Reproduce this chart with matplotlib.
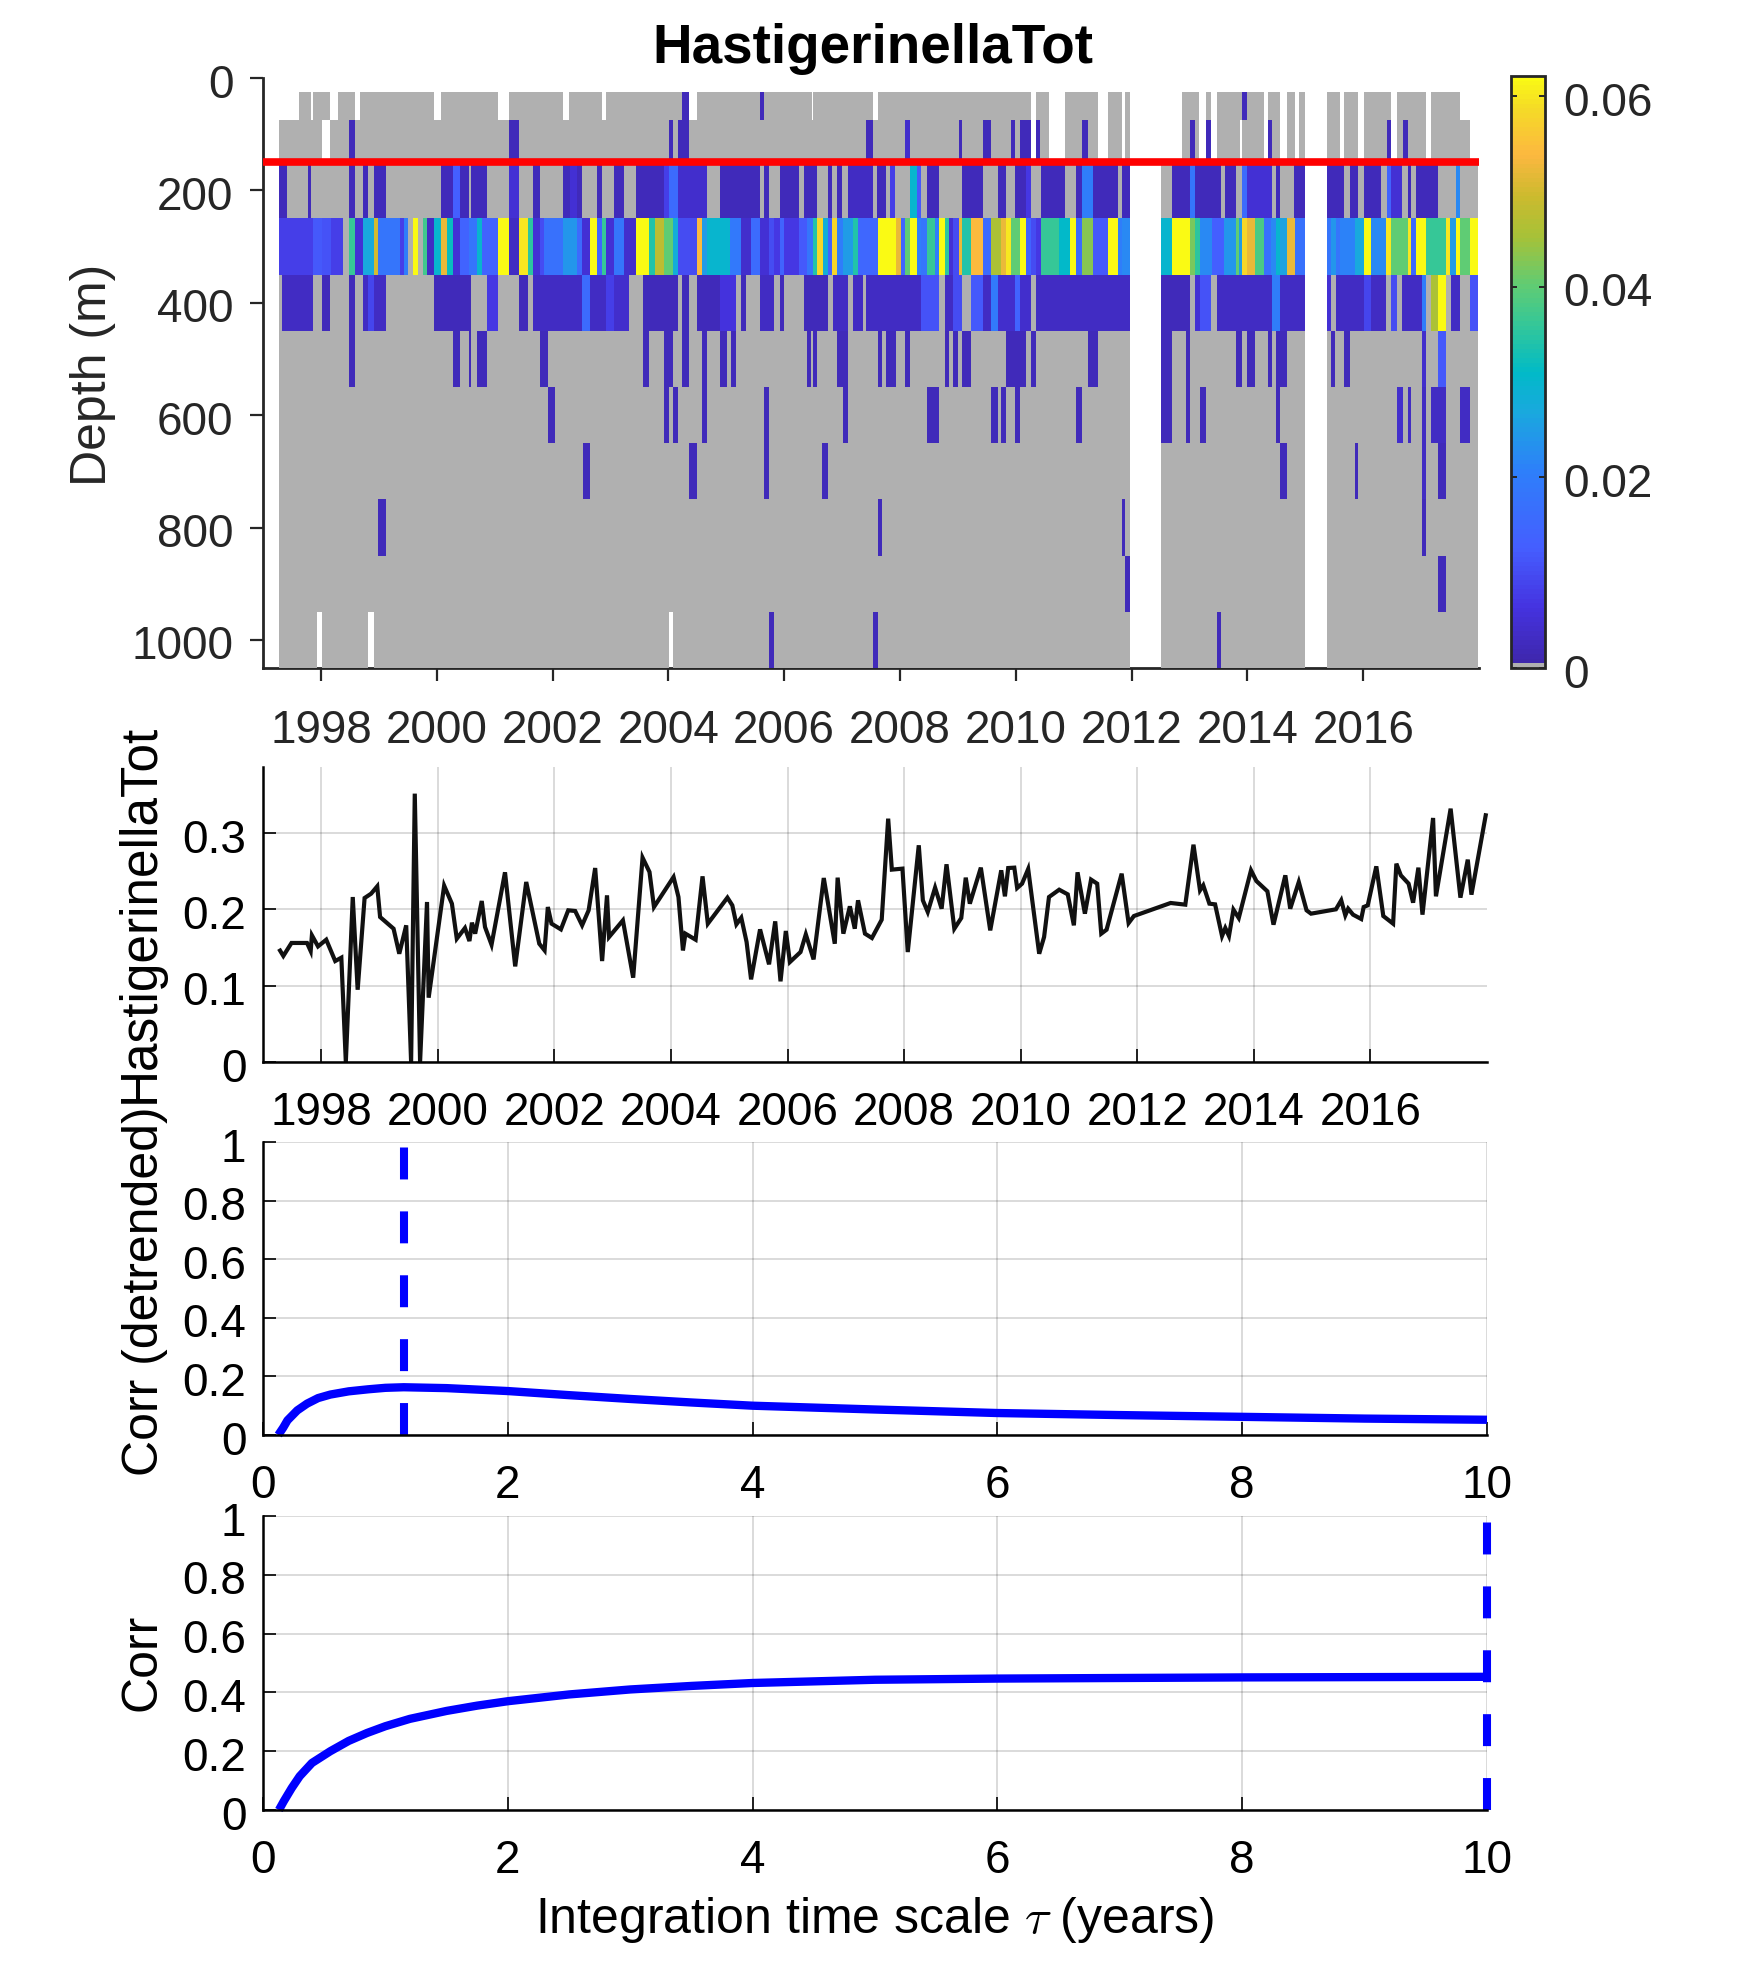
import numpy as np
import matplotlib
matplotlib.use('Agg')
import matplotlib.pyplot as plt
from matplotlib.colors import LinearSegmentedColormap, ListedColormap
from matplotlib.transforms import ScaledTranslation

plt.rcParams['font.family'] = ['Liberation Sans', 'DejaVu Sans']
plt.rcParams['mathtext.fontset'] = 'cm'
plt.rcParams['lines.scale_dashes'] = False

W, H = 1750, 1969

# ---- heat map data: (start year, end year) where sampled, (start, end, value) where non zero ----
depth_edges = [25, 75, 150, 250, 350, 450, 550, 650, 750, 850, 950, 1050]
full_record = [(1997.28, 2011.97), (2012.50, 2014.99), (2015.37, 2017.98)]

row50_base = [(1997.62, 1997.83), (1997.86, 1998.16), (1998.30, 1998.59), (1998.67, 1999.95),
              (2000.07, 2001.05), (2001.24, 2002.18), (2002.28, 2002.85), (2002.92, 2004.35),
              (2004.49, 2006.48), (2006.50, 2007.54), (2007.62, 2010.26), (2010.35, 2010.57),
              (2010.85, 2011.42), (2011.59, 2011.83), (2011.88, 2011.97), (2012.87, 2013.17),
              (2013.29, 2013.38), (2013.47, 2014.29), (2014.36, 2014.57), (2014.68, 2014.83),
              (2014.90, 2014.99), (2015.37, 2015.60), (2015.67, 2015.91), (2016.01, 2016.48),
              (2016.58, 2017.08), (2017.17, 2017.68)]
row50_cells = [(2004.24, 2004.35, .002), (2005.58, 2005.65, .002), (2013.91, 2013.99, .002)]

row110_base = [(1997.28, 1998.02), (1998.16, 2010.26), (2010.35, 2010.57), (2010.85, 2011.42),
               (2011.59, 2011.83), (2011.88, 2011.97), (2012.87, 2013.17), (2013.29, 2013.38),
               (2013.47, 2013.87), (2013.91, 2014.29), (2014.36, 2014.57), (2014.68, 2014.83),
               (2014.90, 2014.99), (2015.37, 2015.60), (2015.67, 2015.91), (2016.01, 2016.48),
               (2016.58, 2017.08), (2017.17, 2017.84)]
row110_cells = [(1998.48, 1998.59, .002), (2001.24, 2001.42, .002), (2004.01, 2004.08, .002),
                (2004.17, 2004.35, .002), (2007.42, 2007.53, .002), (2008.08, 2008.18, .004),
                (2009.02, 2009.08, .002), (2009.43, 2009.57, .002), (2009.92, 2009.99, .002),
                (2010.07, 2010.26, .002), (2010.35, 2010.42, .002), (2011.14, 2011.25, .002),
                (2013.01, 2013.09, .002), (2013.29, 2013.38, .002), (2014.36, 2014.43, .002),
                (2016.41, 2016.48, .002), (2016.69, 2016.77, .002)]

row200_cells = [(1997.28, 1997.42, .002), (1997.78, 1997.83, .002), (1998.48, 1998.59, .002),
                (1998.72, 1998.81, .002), (1998.91, 1999.12, .002), (2000.07, 2000.28, .002),
                (2000.28, 2000.40, .013), (2000.40, 2000.55, .002), (2000.60, 2000.86, .002),
                (2001.24, 2001.42, .005), (2001.67, 2001.78, .002), (2002.18, 2002.31, .002),
                (2002.31, 2002.42, .005), (2002.42, 2002.51, .002), (2002.77, 2002.85, .002),
                (2003.06, 2003.23, .002), (2003.44, 2003.92, .002), (2003.92, 2004.01, .008),
                (2004.01, 2004.17, .016), (2004.17, 2004.66, .004), (2004.89, 2005.58, .002),
                (2005.66, 2005.73, .002), (2005.93, 2006.26, .002), (2006.35, 2006.57, .002),
                (2006.76, 2006.83, .002), (2006.92, 2007.00, .002), (2007.11, 2007.53, .003),
                (2007.61, 2007.76, .002), (2007.83, 2007.92, .008), (2008.18, 2008.30, .03),
                (2008.30, 2008.36, .012), (2008.46, 2008.68, .002), (2009.08, 2009.43, .002),
                (2009.69, 2009.83, .002), (2009.99, 2010.18, .002), (2010.18, 2010.26, .007),
                (2010.44, 2010.85, .002), (2011.04, 2011.14, .002), (2011.14, 2011.33, .02),
                (2011.33, 2011.76, .002), (2011.83, 2011.97, .002), (2012.70, 2013.01, .002),
                (2013.01, 2013.09, .018), (2013.09, 2013.54, .002), (2013.61, 2013.80, .002),
                (2013.91, 2014.00, .016), (2014.00, 2014.43, .005), (2014.49, 2014.57, .002),
                (2014.81, 2014.99, .002), (2015.37, 2015.67, .002), (2015.77, 2015.91, .002),
                (2016.01, 2016.31, .002), (2016.41, 2016.48, .014), (2016.48, 2016.67, .005),
                (2016.77, 2016.83, .002), (2016.91, 2017.29, .002), (2017.60, 2017.68, .022)]

row300_cells = [(1997.28, 1997.86, .008), (1997.86, 1998.02, .012), (1998.02, 1998.17, .011),
                (1998.17, 1998.38, .008), (1998.48, 1998.59, .036), (1998.59, 1998.72, .005),
                (1998.72, 1998.91, .027), (1998.91, 1998.98, .05), (1998.98, 1999.36, .018),
                (1999.36, 1999.43, .008), (1999.43, 1999.50, .02), (1999.59, 1999.67, .062),
                (1999.76, 1999.83, .037), (1999.83, 1999.95, .003), (1999.95, 2000.07, .03),
                (2000.07, 2000.17, .052), (2000.17, 2000.28, .032), (2000.28, 2000.40, .005),
                (2000.40, 2000.55, .014), (2000.55, 2000.70, .018), (2000.70, 2000.78, .03),
                (2000.78, 2001.05, .014), (2001.05, 2001.24, .062), (2001.24, 2001.42, .003),
                (2001.42, 2001.58, .06), (2001.58, 2001.67, .035), (2001.67, 2001.78, .005),
                (2001.78, 2001.85, .01), (2001.85, 2002.18, .017), (2002.18, 2002.42, .024),
                (2002.42, 2002.51, .016), (2002.51, 2002.65, .005), (2002.65, 2002.77, .062),
                (2002.77, 2002.85, .014), (2002.85, 2002.92, .036), (2002.92, 2003.06, .005),
                (2003.06, 2003.23, .018), (2003.23, 2003.44, .004), (2003.44, 2003.66, .062),
                (2003.66, 2003.77, .034), (2003.77, 2003.92, .048), (2003.92, 2004.08, .04),
                (2004.08, 2004.17, .028), (2004.17, 2004.49, .01), (2004.49, 2004.58, .054),
                (2004.58, 2004.66, .025), (2004.66, 2005.07, .03), (2005.07, 2005.25, .019),
                (2005.25, 2005.43, .004), (2005.43, 2005.58, .016), (2005.58, 2005.73, .005),
                (2005.73, 2005.83, .01), (2005.83, 2005.93, .007), (2005.93, 2006.00, .014),
                (2006.00, 2006.26, .007), (2006.26, 2006.39, .012), (2006.39, 2006.50, .018),
                (2006.50, 2006.56, .034), (2006.56, 2006.67, .058), (2006.67, 2006.75, .028),
                (2006.75, 2006.83, .014), (2006.83, 2006.91, .058), (2006.91, 2007.01, .02),
                (2007.01, 2007.19, .025), (2007.19, 2007.27, .034), (2007.27, 2007.62, .015),
                (2007.62, 2007.94, .062), (2007.94, 2008.02, .052), (2008.02, 2008.09, .014),
                (2008.09, 2008.18, .04), (2008.18, 2008.30, .062), (2008.30, 2008.36, .02),
                (2008.36, 2008.46, .018), (2008.46, 2008.60, .036), (2008.60, 2008.68, .02),
                (2008.68, 2008.77, .062), (2008.77, 2008.84, .035), (2008.84, 2008.91, .005),
                (2008.91, 2009.02, .01), (2009.02, 2009.08, .052), (2009.08, 2009.22, .034),
                (2009.22, 2009.43, .054), (2009.43, 2009.57, .016), (2009.57, 2009.74, .046),
                (2009.74, 2009.83, .052), (2009.83, 2009.92, .06), (2009.92, 2010.08, .04),
                (2010.08, 2010.18, .062), (2010.18, 2010.26, .014), (2010.26, 2010.35, .01),
                (2010.35, 2010.43, .007), (2010.43, 2010.74, .036), (2010.74, 2010.94, .031),
                (2010.94, 2011.04, .062), (2011.04, 2011.14, .016), (2011.14, 2011.33, .043),
                (2011.33, 2011.59, .012), (2011.59, 2011.76, .062), (2011.76, 2011.83, .02),
                (2011.83, 2011.97, .022), (2012.50, 2012.70, .03), (2012.70, 2013.01, .062),
                (2013.01, 2013.09, .042), (2013.09, 2013.18, .035), (2013.18, 2013.39, .022),
                (2013.39, 2013.60, .013), (2013.60, 2013.80, .024), (2013.80, 2013.86, .04),
                (2013.86, 2013.91, .025), (2013.91, 2014.00, .058), (2014.00, 2014.14, .052),
                (2014.14, 2014.29, .038), (2014.29, 2014.40, .017), (2014.40, 2014.49, .022),
                (2014.49, 2014.57, .03), (2014.57, 2014.68, .026), (2014.68, 2014.83, .052),
                (2014.83, 2014.99, .017), (2015.37, 2015.45, .018), (2015.45, 2015.53, .024),
                (2015.53, 2015.60, .018), (2015.60, 2015.85, .021), (2015.85, 2016.01, .027),
                (2016.01, 2016.14, .062), (2016.14, 2016.40, .022), (2016.40, 2016.48, .06),
                (2016.48, 2016.77, .04), (2016.77, 2016.83, .06), (2016.83, 2016.91, .016),
                (2016.91, 2017.08, .062), (2017.08, 2017.43, .036), (2017.43, 2017.50, .06),
                (2017.50, 2017.60, .025), (2017.60, 2017.68, .062), (2017.68, 2017.84, .04),
                (2017.84, 2017.98, .062)]

row400_cells = [(1997.33, 1997.86, .003), (1998.02, 1998.16, .002), (1998.48, 1998.59, .002),
                (1998.72, 1998.81, .003), (1998.81, 1998.91, .009), (1998.91, 1999.12, .003),
                (1999.95, 2000.60, .002), (2000.86, 2001.05, .007), (2001.42, 2001.58, .002),
                (2001.67, 2002.51, .003), (2002.51, 2002.65, .016), (2002.65, 2002.92, .003),
                (2002.92, 2003.06, .008), (2003.06, 2003.32, .004), (2003.56, 2004.17, .002),
                (2004.24, 2004.35, .002), (2004.49, 2004.89, .002), (2004.89, 2005.16, .006),
                (2005.25, 2005.34, .002), (2005.58, 2005.82, .003), (2005.93, 2006.00, .002),
                (2006.34, 2006.76, .002), (2006.85, 2007.11, .003), (2007.19, 2007.36, .003),
                (2007.42, 2008.36, .003), (2008.36, 2008.68, .011), (2008.77, 2008.91, .003),
                (2008.91, 2009.08, .01), (2009.22, 2009.43, .012), (2009.43, 2009.57, .003),
                (2009.57, 2009.69, .019), (2009.69, 2009.99, .004), (2009.99, 2010.07, .014),
                (2010.07, 2010.26, .004), (2010.35, 2011.97, .003), (2012.50, 2013.01, .002),
                (2013.09, 2013.18, .005), (2013.18, 2013.38, .011), (2013.47, 2014.42, .003),
                (2014.42, 2014.57, .02), (2014.57, 2014.99, .003), (2015.37, 2015.45, .005),
                (2015.53, 2016.01, .003), (2016.01, 2016.14, .009), (2016.14, 2016.40, .003),
                (2016.48, 2016.58, .01), (2016.67, 2017.01, .003), (2017.01, 2017.08, .02),
                (2017.17, 2017.29, .046), (2017.29, 2017.43, .062), (2017.52, 2017.68, .003),
                (2017.84, 2017.98, .011)]

row500_cells = [(1998.48, 1998.59, .002), (2000.28, 2000.40, .002), (2000.55, 2000.60, .002),
                (2000.70, 2000.86, .002), (2001.78, 2001.92, .002), (2003.56, 2003.66, .002),
                (2003.92, 2004.08, .002), (2004.23, 2004.35, .002), (2004.58, 2004.66, .002),
                (2004.89, 2005.01, .002), (2005.08, 2005.16, .002), (2006.40, 2006.47, .002),
                (2006.50, 2006.56, .002), (2006.91, 2007.10, .002), (2007.62, 2007.69, .002),
                (2007.76, 2007.93, .002), (2008.08, 2008.18, .002), (2008.77, 2008.84, .002),
                (2008.91, 2009.01, .002), (2009.08, 2009.22, .002), (2009.83, 2010.18, .002),
                (2010.26, 2010.35, .002), (2011.25, 2011.42, .002), (2012.50, 2012.69, .002),
                (2012.94, 2013.01, .002), (2013.80, 2013.91, .002), (2013.99, 2014.13, .002),
                (2014.36, 2014.42, .002), (2014.49, 2014.68, .002), (2015.45, 2015.52, .002),
                (2015.67, 2015.77, .002), (2017.01, 2017.08, .004), (2017.29, 2017.43, .012)]

row600_cells = [(2001.92, 2002.04, .002), (2003.92, 2004.01, .002), (2004.08, 2004.16, .002),
                (2004.58, 2004.66, .002), (2005.65, 2005.73, .002), (2007.01, 2007.10, .002),
                (2008.46, 2008.68, .002), (2009.57, 2009.69, .002), (2009.74, 2009.83, .002),
                (2009.99, 2010.07, .002), (2011.04, 2011.14, .002), (2012.50, 2012.69, .002),
                (2012.94, 2013.01, .002), (2013.18, 2013.28, .002), (2014.49, 2014.57, .002),
                (2016.58, 2016.68, .004), (2016.77, 2016.83, .003), (2017.01, 2017.08, .003),
                (2017.17, 2017.43, .003), (2017.68, 2017.84, .003)]

row700_cells = [(2002.52, 2002.65, .002), (2004.35, 2004.49, .002), (2005.65, 2005.73, .002),
                (2006.66, 2006.75, .002), (2014.57, 2014.68, .002), (2015.86, 2015.91, .002),
                (2017.01, 2017.08, .003), (2017.29, 2017.43, .002)]

row800_cells = [(1998.98, 1999.12, .002), (2007.62, 2007.69, .002), (2011.83, 2011.88, .002),
                (2017.01, 2017.08, .002)]

row900_cells = [(2011.88, 2011.97, .002), (2017.29, 2017.43, .002)]

row1000_base = [(1997.28, 1997.93), (1998.02, 1998.81), (1998.91, 2004.01), (2004.08, 2011.97),
                (2012.50, 2014.99), (2015.37, 2017.98)]
row1000_cells = [(2005.73, 2005.82, .002), (2007.53, 2007.62, .002), (2013.47, 2013.54, .002)]

rows = [(row50_base, row50_cells), (row110_base, row110_cells), (full_record, row200_cells),
        (full_record, row300_cells), (full_record, row400_cells), (full_record, row500_cells),
        (full_record, row600_cells), (full_record, row700_cells), (full_record, row800_cells),
        (full_record, row900_cells), (row1000_base, row1000_cells)]

# ---- time series panel ----
ts_years = [1997.293, 1997.349, 1997.489, 1997.755, 1997.818, 1997.839, 1997.944, 1998.085, 1998.239,
            1998.344, 1998.421, 1998.540, 1998.624, 1998.743, 1998.855, 1998.960, 1999.009, 1999.240,
            1999.338, 1999.457, 1999.541, 1999.604, 1999.695, 1999.814, 1999.842, 2000.108, 2000.241,
            2000.325, 2000.465, 2000.542, 2000.585, 2000.640, 2000.753, 2000.809, 2000.921, 2001.152,
            2001.327, 2001.516, 2001.740, 2001.831, 2001.887, 2001.950, 2002.111, 2002.237, 2002.356,
            2002.475, 2002.587, 2002.699, 2002.818, 2002.902, 2002.937, 2003.175, 2003.351, 2003.512,
            2003.631, 2003.708, 2004.044, 2004.128, 2004.205, 2004.247, 2004.422, 2004.541, 2004.632,
            2004.968, 2005.052, 2005.122, 2005.206, 2005.297, 2005.374, 2005.528, 2005.682, 2005.788,
            2005.879, 2005.970, 2006.040, 2006.222, 2006.313, 2006.446, 2006.621, 2006.810, 2006.859,
            2006.957, 2007.069, 2007.153, 2007.209, 2007.328, 2007.447, 2007.615, 2007.726, 2007.789,
            2007.971, 2008.062, 2008.251, 2008.321, 2008.405, 2008.531, 2008.643, 2008.727, 2008.861,
            2008.980, 2009.057, 2009.127, 2009.316, 2009.477, 2009.666, 2009.729, 2009.785, 2009.890,
            2009.939, 2010.023, 2010.128, 2010.317, 2010.401, 2010.485, 2010.660, 2010.807, 2010.912,
            2010.975, 2011.101, 2011.207, 2011.312, 2011.382, 2011.473, 2011.732, 2011.851, 2011.942,
            2012.572, 2012.824, 2012.964, 2013.076, 2013.132, 2013.237, 2013.335, 2013.454, 2013.510,
            2013.573, 2013.650, 2013.741, 2013.951, 2014.043, 2014.232, 2014.337, 2014.540, 2014.624,
            2014.771, 2014.904, 2014.981, 2015.408, 2015.499, 2015.569, 2015.618, 2015.702, 2015.842,
            2015.884, 2015.954, 2016.101, 2016.221, 2016.389, 2016.445, 2016.522, 2016.655, 2016.732,
            2016.823, 2016.893, 2017.075, 2017.124, 2017.376, 2017.544, 2017.670, 2017.733, 2017.978]
ts_values = [.146, .139, .156, .156, .1454, .166, .1515, .1603, .1323,
             .1367, 0, .2162, .0947, .2149, .2206, .2302, .19, .1747,
             .1419, .1791, 0, .3517, 0, .2097, .0843, .2311, .2075,
             .1616, .1756, .1585, .1826, .1682, .211, .1769, .1537, .2486,
             .1253, .2359, .155, .1463, .2031, .1813, .1738, .1988, .1979,
             .1791, .1988, .2542, .1323, .2184, .1638, .1856, .1105, .2678,
             .249, .2031, .2424, .2162, .1463, .1682, .1603, .2433, .1813,
             .2154, .2053, .1804, .1891, .1572, .1083, .1738, .128, .1843,
             .1057, .1717, .131, .1441, .1673, .1345, .2411, .155, .2416,
             .1682, .204, .1747, .2119, .1682, .1625, .1865, .3189, .2521,
             .2534, .1441, .284, .2119, .1966, .2285, .2009, .2591, .1747,
             .1887, .2416, .2075, .2547, .1725, .2512, .2171, .2542, .2547,
             .228, .2337, .2529, .1419, .1638, .2162, .2258, .2197, .1791,
             .2486, .1944, .239, .2337, .1682, .1734, .2468, .1821, .1913,
             .2084, .2062, .2848, .225, .2315, .2075, .2066, .1651, .1756,
             .1651, .1996, .1887, .2512, .2372, .2237, .18, .2446, .2009,
             .2359, .1988, .1944, .2001, .2119, .1922, .2009, .1931, .1874,
             .2031, .2053, .2564, .1913, .1813, .2599, .2446, .2337, .2088,
             .2547, .1931, .3198, .2171, .332, .2154, .2652, .2193, .3233]

# ---- correlation panels ----
tau_detr = [0.125, 0.165, 0.2, 0.28, 0.36, 0.45, 0.55, 0.7, 0.86, 1, 1.15, 1.5, 2, 2.5, 3, 3.5, 4, 5, 6, 7, 8,
            9, 10]
corr_detr = [0, .025, .05, .084, .107, .126, .138, .149, .156, .161, .163, .16, .15, .136, .123, .111, .1,
             .087, .075, .068, .062, .056, .052]
best_tau_detr = 1.155

tau_raw = [0.13, 0.17, 0.235, 0.3, 0.4, 0.55, 0.7, 0.85, 1, 1.2, 1.5, 1.75, 2, 2.5, 3, 3.5, 4, 5, 6, 7, 8, 9, 10]
corr_raw = [0, .03, .075, .115, .16, .2, .235, .262, .285, .31, .337, .355, .37, .393, .41, .422, .432,
            .443, .447, .449, .451, .452, .453]
best_tau_raw = 10

year_ticks = list(range(1998, 2018, 2))
depth_ticks = [0, 200, 400, 600, 800, 1000]
ts_ticks = [0, 0.1, 0.2, 0.3]
ts_labels = ['0', '0.1', '0.2', '0.3']
corr_ticks = [0, 0.2, 0.4, 0.6, 0.8, 1]
corr_labels = ['0', '0.2', '0.4', '0.6', '0.8', '1']
tau_ticks = [0, 2, 4, 6, 8, 10]
cbar_ticks = [0, 0.02, 0.04, 0.06]
cbar_labels = ['0', '0.02', '0.04', '0.06']

TICK_FS = 33
LABEL_FS = 36
DARK = '#262626'


def axes_px(fig, left, top, right, bottom):
    return fig.add_axes([left / W, 1 - bottom / H, (right - left) / W, (bottom - top) / H])


def parula_gray():
    stops = [(0.00, (.2422, .1504, .6603)), (0.10, (.27, .20, .88)), (0.20, (.27, .37, 1.0)),
             (0.33, (.18, .50, .98)), (0.43, (.10, .66, .87)), (0.50, (.0, .73, .78)),
             (0.58, (.20, .78, .60)), (0.65, (.38, .80, .45)), (0.73, (.65, .76, .22)),
             (0.80, (.80, .73, .18)), (0.87, (.99, .72, .25)), (0.95, (.96, .86, .15)),
             (1.00, (.98, .98, .08))]
    base = LinearSegmentedColormap.from_list('parula_like', stops)
    colors = base(np.linspace(0, 1, 128))
    colors[0] = matplotlib.colors.to_rgba('#b0b0b0')
    return ListedColormap(colors)


def lower_ylabels(ax):
    # MATLAB sets the y tick labels a little under the tick
    shift = ScaledTranslation(0, -2.5 / 100, fig.dpi_scale_trans)
    for lab in ax.get_yticklabels():
        lab.set_transform(lab.get_transform() + shift)


def line_panel(ax, yticks, ylabels):
    ax.spines['top'].set_visible(False)
    ax.spines['right'].set_visible(False)
    for s in ['left', 'bottom']:
        ax.spines[s].set_linewidth(1.8)
    ax.set_yticks(yticks)
    ax.set_yticklabels(ylabels)
    ax.grid(True, color='k', alpha=0.17, linewidth=1.2)
    ax.set_axisbelow(True)
    ax.tick_params(axis='both', direction='in', length=9.4, width=1.2, labelsize=TICK_FS)
    ax.tick_params(axis='y', pad=12)
    lower_ylabels(ax)


fig = plt.figure(figsize=(W / 100, H / 100), dpi=100)

# ---- top: depth-time heat map ----
ax1 = axes_px(fig, 263, 78, 1479, 668)
bounds = sorted({v for base, cells in rows for span in list(base) + list(cells) for v in span[:2]})
t_edges = np.array(bounds)
grid = np.full((len(rows), len(t_edges) - 1), np.nan)
for i, (base, cells) in enumerate(rows):
    for t0, t1 in base:
        grid[i, (t_edges[:-1] >= t0) & (t_edges[1:] <= t1)] = 0
    for t0, t1, val in cells:
        grid[i, (t_edges[:-1] >= t0) & (t_edges[1:] <= t1)] = val

cmap = parula_gray()
mesh = ax1.pcolormesh(t_edges, depth_edges, np.ma.masked_invalid(grid), cmap=cmap, vmin=0, vmax=0.0621,
                      antialiased=False, linewidth=0, zorder=3)
ax1.plot([1997, 2018], [150, 150], color='#ff0000', linewidth=5.5, solid_capstyle='butt', zorder=4)
ax1.set_xlim(1997, 2018)
ax1.set_ylim(1050, 0)
ax1.set_xticks(year_ticks)
ax1.set_xticklabels([str(y) for y in year_ticks])
ax1.set_yticks(depth_ticks)
ax1.spines['top'].set_visible(False)
ax1.spines['right'].set_visible(False)
for s in ['left', 'bottom']:
    ax1.spines[s].set_linewidth(2.0)
    ax1.spines[s].set_color(DARK)
ax1.tick_params(axis='both', direction='out', length=9.4, width=1.6, color=DARK, labelcolor=DARK,
                labelsize=TICK_FS)
ax1.tick_params(axis='x', pad=20)
ax1.tick_params(axis='y', pad=12)
lower_ylabels(ax1)
fig.text(873 / W, 1 - 49 / H, 'HastigerinellaTot', fontsize=39.5, fontweight='bold', ha='center', va='center')
fig.text(93 / W, 1 - 375 / H, 'Depth (m)', fontsize=LABEL_FS, color=DARK, rotation=90, ha='center', va='center')

cax = axes_px(fig, 1511, 76, 1545, 668)
cb = fig.colorbar(mesh, cax=cax, ticks=cbar_ticks)
cb.ax.set_yticklabels(cbar_labels)
cb.outline.set_linewidth(2.0)
cb.outline.set_edgecolor(DARK)
cax.tick_params(axis='y', which='both', left=True, right=True, direction='in', length=4.5, width=1.4,
                color=DARK, labelcolor=DARK, labelsize=TICK_FS, pad=13)
cax.set_ylim(0, 0.0621)
lower_ylabels(cax)

# ---- time series ----
ax2 = axes_px(fig, 263, 767, 1487, 1062)
ax2.plot(ts_years, ts_values, color='#111111', linewidth=3.0, clip_on=False, solid_joinstyle='miter')
ax2.set_xlim(1997, 2018)
ax2.set_ylim(0, 0.3866)
line_panel(ax2, ts_ticks, ts_labels)
ax2.set_xticks(year_ticks)
ax2.set_xticklabels([str(y) for y in year_ticks])
ax2.tick_params(axis='x', pad=21)
fig.text(140 / W, 1 - 913 / H, 'HastigerinellaTot', fontsize=37, rotation=90, ha='center', va='center')

# ---- correlation, detrended ----
ax3 = axes_px(fig, 263, 1142, 1487, 1435)
ax3.plot(tau_detr, corr_detr, color='#0000ff', linewidth=6, clip_on=False, solid_capstyle='butt')
ax3.plot([best_tau_detr, best_tau_detr], [0, 1], color='#0000ff', linewidth=5.8, linestyle=(0, (23, 23)),
         dash_capstyle='butt', clip_on=False)
ax3.set_xlim(0, 10)
ax3.set_ylim(0, 1)
line_panel(ax3, corr_ticks, corr_labels)
ax3.set_xticks(tau_ticks)
ax3.tick_params(axis='x', pad=21)
fig.text(145 / W, 1 - 1291 / H, 'Corr (detrended)', fontsize=LABEL_FS, rotation=90, ha='center', va='center')

# ---- correlation ----
ax4 = axes_px(fig, 263, 1516, 1487, 1810)
ax4.plot(tau_raw, corr_raw, color='#0000ff', linewidth=6, clip_on=False, solid_capstyle='butt')
ax4.plot([best_tau_raw, best_tau_raw], [0, 1], color='#0000ff', linewidth=5.8, linestyle=(0, (23, 23)),
         dash_capstyle='butt', clip_on=False)
ax4.set_xlim(0, 10)
ax4.set_ylim(0, 1)
line_panel(ax4, corr_ticks, corr_labels)
ax4.set_xticks(tau_ticks)
ax4.tick_params(axis='x', pad=21)
fig.text(142 / W, 1 - 1662 / H, 'Corr', fontsize=LABEL_FS, rotation=90, ha='center', va='center')
fig.text(875 / W, 1 - 1920 / H, r'Integration time scale $\tau$ (years)', fontsize=LABEL_FS, ha='center', va='center')

fig.savefig('out.png', dpi=100)
